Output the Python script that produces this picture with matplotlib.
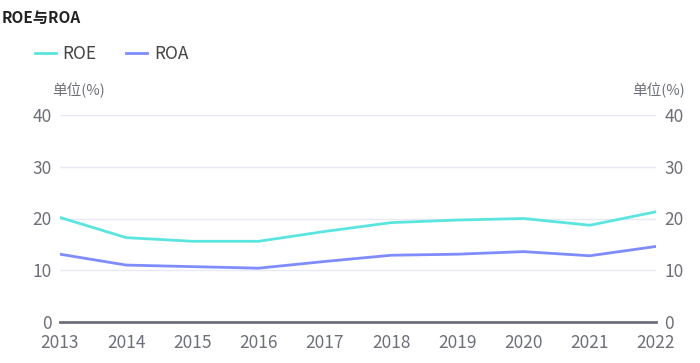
import numpy as np
import matplotlib.pyplot as plt

plt.rcParams['font.family'] = ['Noto Sans CJK SC', 'DejaVu Sans']

# 数据
years = ["2013", "2014", "2015", "2016", "2017", "2018", "2019", "2020", "2021", "2022"]
roe = [20.2, 16.3, 15.6, 15.6, 17.5, 19.2, 19.7, 20.0, 18.7, 21.3]
roa = [13.1, 11.0, 10.7, 10.4, 11.7, 12.9, 13.1, 13.6, 12.8, 14.6]
yticks = [0, 10, 20, 30, 40]

txt = "#6e7079"
fig = plt.figure(figsize=(7, 3.63), dpi=100)
ax = fig.add_axes([60/700, 1-322/363, 596/700, 207/363])
x = np.arange(len(years))

ax.plot(x, roe, color="#5ae6e0", lw=2, label="ROE")
ax.plot(x, roa, color="#7f8cff", lw=2, label="ROA")

ax.set_xlim(0, len(years)-1)
ax.set_ylim(0, 40)
ax.set_yticks(yticks)
ax.set_xticks(x)
ax.set_xticklabels(years)
ax.grid(axis="y", color="#e8e9f2", lw=1)
ax.set_axisbelow(True)
for s in ["top", "right", "left"]:
    ax.spines[s].set_visible(False)
ax.spines["bottom"].set_color("#6e7079")
ax.spines["bottom"].set_linewidth(2)
ax.tick_params(axis="y", length=0, labelsize=12.5, labelcolor=txt, pad=6)
ax.tick_params(axis="x", length=0, labelsize=12.5, labelcolor=txt, pad=9)

ax2 = ax.twinx()
ax2.set_ylim(0, 40)
ax2.set_yticks(yticks)
for s in ["top", "right", "left", "bottom"]:
    ax2.spines[s].set_visible(False)
ax2.tick_params(axis="y", length=0, labelsize=12.5, labelcolor=txt, pad=6)

fig.text(2/700, 1-18/363, "ROE与ROA", fontsize=11, fontweight="bold", color="#222222", va="center")
fig.text(52/700, 1-90/363, "单位(%)", fontsize=10.5, color=txt, va="center")
fig.text(685/700, 1-90/363, "单位(%)", fontsize=10.5, color=txt, va="center", ha="right")

fig.legend(loc="upper left", bbox_to_anchor=(28/700, 1-38/363), ncol=2, frameon=False,
           fontsize=12.5, labelcolor="#444444", handlelength=1.2, columnspacing=1.7,
           handletextpad=0.4, borderaxespad=0)

fig.savefig("out.png", dpi=100)
